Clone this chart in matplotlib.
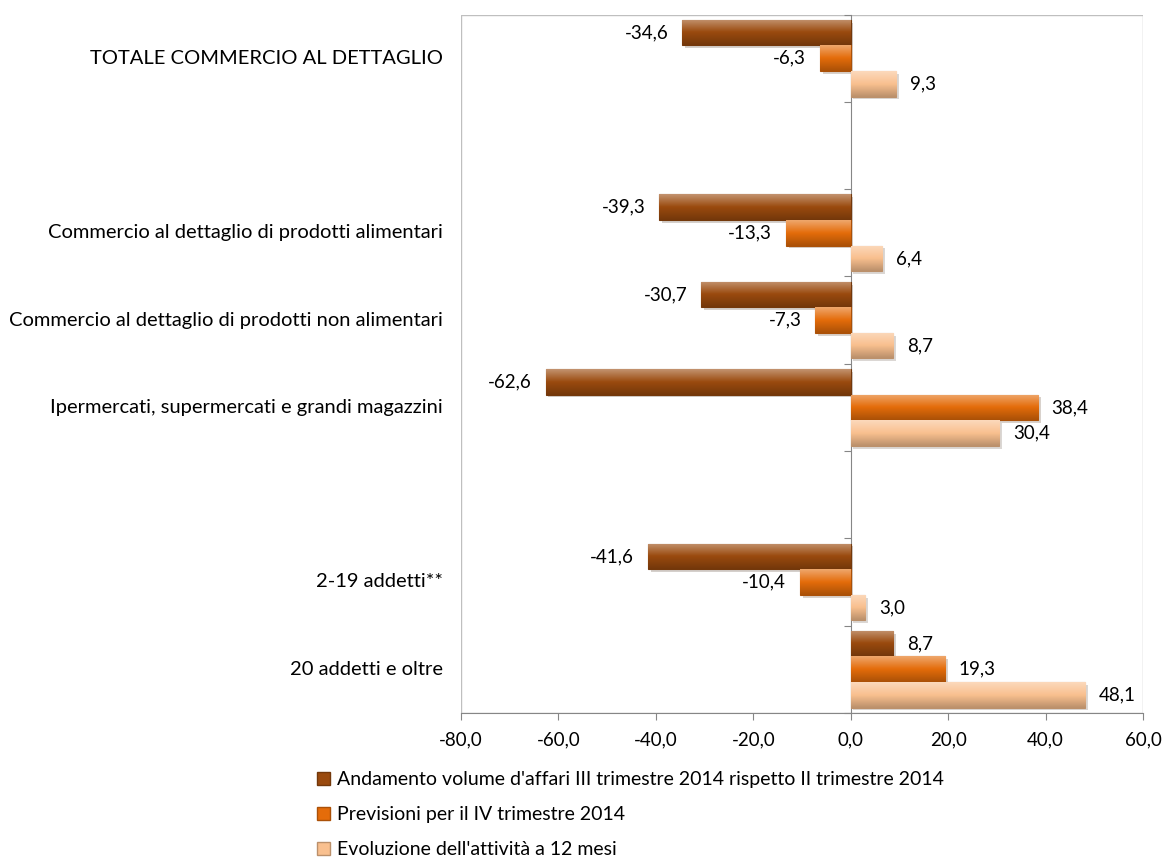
import numpy as np
import matplotlib.pyplot as plt
from matplotlib.patches import Patch, Rectangle
from matplotlib.colors import to_rgb
import matplotlib.transforms as mtransforms
import matplotlib.patheffects as pe

plt.rcParams['font.family'] = ['Lato', 'DejaVu Sans']

categorie = ["TOTALE COMMERCIO AL DETTAGLIO", "",
             "Commercio al dettaglio di prodotti alimentari",
             "Commercio al dettaglio di prodotti non alimentari",
             "Ipermercati, supermercati e grandi magazzini", "",
             "2-19 addetti**", "20 addetti e oltre"]
serie = ["Andamento volume d'affari III trimestre 2014 rispetto II trimestre 2014",
         "Previsioni per il IV trimestre 2014",
         "Evoluzione dell'attività a 12 mesi"]
andamento = [-34.6, None, -39.3, -30.7, -62.6, None, -41.6, 8.7]
previsioni = [-6.3, None, -13.3, -7.3, 38.4, None, -10.4, 19.3]
evoluzione = [9.3, None, 6.4, 8.7, 30.4, None, 3.0, 48.1]
colori = ["#9a4a0e", "#e46c0a", "#f9c08f"]
xticks = [-80, -60, -40, -20, 0, 20, 40, 60]


def shade(c, f):
    r = np.array(to_rgb(c))
    if f > 0:
        return r + (1 - r) * f
    return r * (1 + f)


fig = plt.figure(figsize=(11.64, 8.61), dpi=100)
ax = fig.add_axes([0.396, 0.172, 0.586, 0.811])

h = 0.293
for k, (vals, col) in enumerate(zip([andamento, previsioni, evoluzione], colori)):
    for i, v in enumerate(vals):
        if v is None:
            continue
        yy = i + (k - 1) * h
        bar = ax.barh(yy, v, height=h, color=col, edgecolor=shade(col, -0.25),
                      linewidth=0.8, zorder=3)[0]
        bar.set_path_effects([pe.SimplePatchShadow(offset=(2, -2), alpha=0.2),
                              pe.Normal()])
        # gradiente verticale per l'effetto rilievo
        g = np.linspace(0, 1, 50)
        cols = np.array([shade(col, 0.4 * (1 - 2 * t)) if t < 0.5 else
                         shade(col, -0.25 * (2 * t - 1)) for t in g])
        img = ax.imshow(cols[:, None, :], aspect='auto', zorder=3.5,
                        extent=(min(0, v), max(0, v), yy + h / 2, yy - h / 2),
                        interpolation='bilinear')
        img.set_clip_path(bar)
        lab = f"{v:.1f}".replace('.', ',')
        off = 10 if v > 0 else -10
        ax.annotate(lab, (v, yy), xytext=(off, 0), textcoords='offset points',
                    ha='left' if v > 0 else 'right', va='center', fontsize=13.5,
                    zorder=5)

ax.set_xlim(-80, 60)
ax.set_ylim(len(categorie) - 0.5, -0.5)
ax.set_xticks(xticks)
ax.set_xticklabels([f"{t:.1f}".replace('.', ',') for t in xticks], fontsize=13.5)
ax.tick_params(axis='x', length=5, color='#868686', pad=8)

ax.spines['left'].set_position(('data', 0))
for s in ['top', 'right']:
    ax.spines[s].set_visible(False)
ax.spines['left'].set_color('#868686')
ax.spines['bottom'].set_color('#868686')
ax.set_yticks(np.arange(len(categorie) + 1) - 0.5)
ax.set_yticklabels([])
ax.tick_params(axis='y', length=5, color='#868686')
ax.add_patch(Rectangle((0, 0), 1, 1, transform=ax.transAxes, fill=False,
                       ec='#bfbfbf', lw=1, zorder=0.5))

trans = mtransforms.blended_transform_factory(ax.transAxes, ax.transData)
for i, c in enumerate(categorie):
    ax.text(-0.026, i, c, transform=trans, ha='right', va='center', fontsize=14.5)

handles = [Patch(facecolor=c, edgecolor=shade(c, -0.25)) for c in colori]
fig.legend(handles, serie, loc='upper left', bbox_to_anchor=(0.272, 0.104),
           frameon=False, fontsize=14, handlelength=0.7, handleheight=0.7,
           handletextpad=0.35, labelspacing=0.92, borderpad=0, borderaxespad=0)

fig.savefig('out.png', dpi=100)
